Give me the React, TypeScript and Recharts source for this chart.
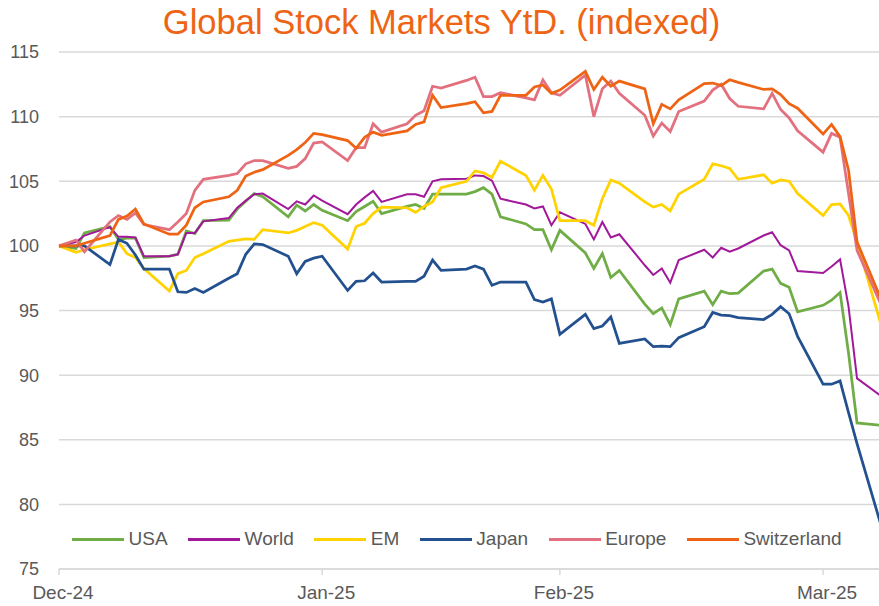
import { LineChart, Line, XAxis, YAxis, CartesianGrid, Legend } from 'recharts';

const FONT = '"Liberation Sans", Arial, sans-serif';
const LABEL = '#595959';
const GRID = '#D9D9D9';

// trading days, counted in calendar days from 31 Dec 2024
const tradingDay = [
  0, 2, 3, 6, 7, 8, 9, 10, 13, 14, 15, 16, 17, 20, 21, 22, 23, 24, 27, 28, 29, 30, 31,
  34, 35, 36, 37, 38, 41, 42, 43, 44, 45, 48, 49, 50, 51, 52, 55, 56, 57, 58, 59,
  62, 63, 64, 65, 66, 69, 70, 71, 72, 73, 76, 77, 78, 79, 80, 83, 84, 85, 86, 87,
  90, 91, 92, 93, 94, 97,
];

const usa = [
  100, 99.8, 101.0, 101.5, 100.5, 100.6, 100.6, 99.1, 99.2, 99.35, 101.15, 100.95, 101.95,
  102.0, 102.85, 103.45, 104.05, 103.8, 102.25, 103.15, 102.7, 103.2, 102.75,
  101.95, 102.65, 103.05, 103.45, 102.5, 103.05, 103.2, 102.9, 104.0, 104.0,
  104.0, 104.2, 104.5, 104.0, 102.25, 101.7, 101.25, 101.25, 99.7, 101.2,
  99.45, 98.25, 99.4, 97.55, 98.1, 95.5, 94.75, 95.2, 93.9, 95.9,
  96.5, 95.45, 96.5, 96.3, 96.35, 98.05, 98.2, 97.1, 96.8, 94.9,
  95.4, 95.8, 96.4, 91.7, 86.3, 86.1,
];

const world = [
  100, 100.3, 100.8, 101.45, 100.7, 100.7, 100.65, 99.2, 99.2, 99.35, 101.0, 101.0, 101.9,
  102.15, 102.95, 103.5, 104.0, 104.05, 102.85, 103.45, 103.2, 103.9, 103.5,
  102.45, 103.2, 103.75, 104.25, 103.4, 104.0, 104.0, 103.8, 105.0, 105.15,
  105.2, 105.45, 105.4, 105.05, 103.65, 103.2, 102.9, 103.05, 101.6, 102.6,
  101.7, 100.5, 101.85, 100.65, 100.9, 98.5, 97.75, 98.25, 97.15, 98.9,
  99.7, 99.1, 99.85, 99.55, 99.8, 100.8, 101.05, 100.05, 99.65, 98.05,
  97.9, 98.4, 98.95, 95.3, 89.75, 88.3,
];

const em = [
  100, 99.5, 99.7, 100.15, 100.3, 99.4, 99.1, 98.25, 96.5, 97.85, 98.1, 99.1, 99.4,
  100.35, 100.45, 100.55, 100.5, 101.25, 101.0, 101.2, 101.5, 101.8, 101.6,
  99.75, 101.5, 101.75, 102.5, 103.0, 102.95, 102.6, 103.05, 103.4, 104.5,
  105.0, 105.8, 105.65, 105.3, 106.55, 105.45, 104.3, 105.45, 104.4, 101.95,
  101.95, 101.6, 103.65, 105.1, 104.85, 103.4, 103.0, 103.2, 102.7, 104.0,
  105.15, 106.35, 106.2, 106.0, 105.15, 105.5, 104.85, 105.1, 105.0, 104.05,
  102.35, 103.2, 103.25, 102.35, 100.3, 93.5,
];

const japan = [
  100, 100, 100, 98.55, 100.5, 100.2, 99.3, 98.2, 98.2, 96.45, 96.4, 96.7, 96.4,
  97.5, 97.85, 99.35, 100.15, 100.1, 99.2, 97.85, 98.8, 99.05, 99.2,
  96.55, 97.25, 97.3, 97.9, 97.2, 97.25, 97.25, 97.65, 98.9, 98.1,
  98.2, 98.45, 98.2, 96.95, 97.2, 97.2, 95.85, 95.65, 95.9, 93.15,
  94.7, 93.6, 93.8, 94.5, 92.45, 92.8, 92.2, 92.25, 92.2, 92.9,
  93.75, 94.85, 94.65, 94.6, 94.45, 94.3, 94.7, 95.3, 94.75, 93.0,
  89.3, 89.3, 89.55, 87.1, 84.7, 78.0,
];

const europe = [
  100, 100.45, 99.55, 101.85, 102.35, 102.05, 102.55, 101.65, 101.25, 101.85, 102.5, 104.3, 105.15,
  105.45, 105.6, 106.35, 106.6, 106.6, 106.0, 106.15, 106.75, 107.95, 108.05,
  106.6, 107.6, 107.6, 109.45, 108.8, 109.45, 110.1, 110.45, 112.35, 112.2,
  112.8, 113.05, 111.55, 111.55, 111.85, 111.45, 111.3, 112.85, 111.85, 111.65,
  113.2, 110.0, 112.15, 112.75, 111.8, 110.1, 108.5, 109.5, 108.85, 110.4,
  111.2, 112.05, 112.5, 111.4, 110.8, 110.6, 111.8, 110.55, 109.9, 108.9,
  107.25, 108.7, 108.4, 104.05, 99.65, 95.2,
];

const switzerland = [
  100, 100, 100.2, 100.8, 102.05, 102.3, 102.85, 101.7, 100.9, 100.9, 101.6, 102.95, 103.4,
  103.8, 104.3, 105.4, 105.7, 105.9, 107.0, 107.45, 108.0, 108.7, 108.6,
  108.15, 107.55, 108.4, 108.8, 108.55, 108.9, 109.4, 109.6, 111.65, 110.7,
  111.0, 111.15, 110.3, 110.4, 111.65, 111.65, 112.3, 112.45, 111.8, 112.05,
  113.5, 112.1, 113.05, 112.35, 112.75, 112.15, 109.45, 110.95, 110.6, 111.3,
  112.55, 112.6, 112.4, 112.85, 112.65, 112.1, 112.15, 111.7, 111.0, 110.65,
  108.65, 109.4, 108.45, 105.85, 100.3, 95.6,
];

// month-end ticks on the date axis
const monthTicks = [0, 31, 59, 90];
const monthLabels = ['Dec-24', 'Jan-25', 'Feb-25', 'Mar-25'];
const valueTicks = [75, 80, 85, 90, 95, 100, 105, 110, 115];

const series = [
  { key: 'usa', name: 'USA', color: '#70AD47', width: 2.75 },
  { key: 'world', name: 'World', color: '#A2189B', width: 2 },
  { key: 'em', name: 'EM', color: '#FFD200', width: 2.75 },
  { key: 'japan', name: 'Japan', color: '#23508E', width: 2.75 },
  { key: 'europe', name: 'Europe', color: '#E2707F', width: 2.75 },
  { key: 'switzerland', name: 'Switzerland', color: '#EE6414', width: 2.75 },
];

const data = tradingDay.map((day, i) => ({
  day,
  usa: usa[i],
  world: world[i],
  em: em[i],
  japan: japan[i],
  europe: europe[i],
  switzerland: switzerland[i],
}));

function MonthTick({ x, y, payload }: any) {
  const idx = monthTicks.indexOf(payload.value);
  return (
    <text x={x + 4} y={y} dy="0.71em" textAnchor="middle" fill={LABEL} fontSize={19} fontFamily={FONT}>
      {monthLabels[idx]}
    </text>
  );
}

function ChartLegend() {
  return (
    <div style={{ display: 'flex', alignItems: 'center', fontFamily: FONT, fontSize: 19, color: LABEL, whiteSpace: 'nowrap' }}>
      {series.map((s) => (
        <div key={s.key} style={{ display: 'flex', alignItems: 'center', marginRight: 20.5 }}>
          <span style={{ display: 'inline-block', width: 52, height: 3, background: s.color, marginRight: 4.5 }} />
          <span>{s.name}</span>
        </div>
      ))}
    </div>
  );
}

export default function App() {
  return (
    <div style={{ position: 'absolute', left: 0, top: 0, width: 879, height: 606, overflow: 'hidden', background: '#fff' }}>
      <div
        style={{
          position: 'absolute',
          left: 0,
          top: 5,
          width: 883,
          textAlign: 'center',
          fontFamily: FONT,
          fontSize: 34.5,
          lineHeight: '34.5px',
          color: '#EE6414',
        }}
      >
        Global Stock Markets YtD. (indexed)
      </div>
      <LineChart width={900} height={606} data={data} margin={{ top: 52, right: 17.5, bottom: 0, left: 0 }}>
        <CartesianGrid vertical={false} stroke={GRID} strokeWidth={1.5} />
        <XAxis
          dataKey="day"
          type="number"
          domain={[0, 97]}
          ticks={monthTicks}
          height={37}
          axisLine={{ stroke: GRID, strokeWidth: 1.5 }}
          tickLine={{ stroke: GRID, strokeWidth: 1.5 }}
          tickSize={6}
          tickMargin={11}
          tick={<MonthTick />}
        />
        <YAxis
          type="number"
          domain={[75, 115]}
          ticks={valueTicks}
          width={59}
          axisLine={false}
          tickLine={false}
          tickSize={0}
          tickMargin={20}
          tick={{ fill: LABEL, fontSize: 18, fontFamily: FONT }}
        />
        <Legend
          content={<ChartLegend />}
          verticalAlign="middle"
          align="center"
          wrapperStyle={{ top: 528, left: 72, width: 'auto' }}
        />
        {series.map((s) => (
          <Line
            key={s.key}
            type="linear"
            dataKey={s.key}
            name={s.name}
            stroke={s.color}
            strokeWidth={s.width}
            dot={false}
            isAnimationActive={false}
          />
        ))}
      </LineChart>
    </div>
  );
}
